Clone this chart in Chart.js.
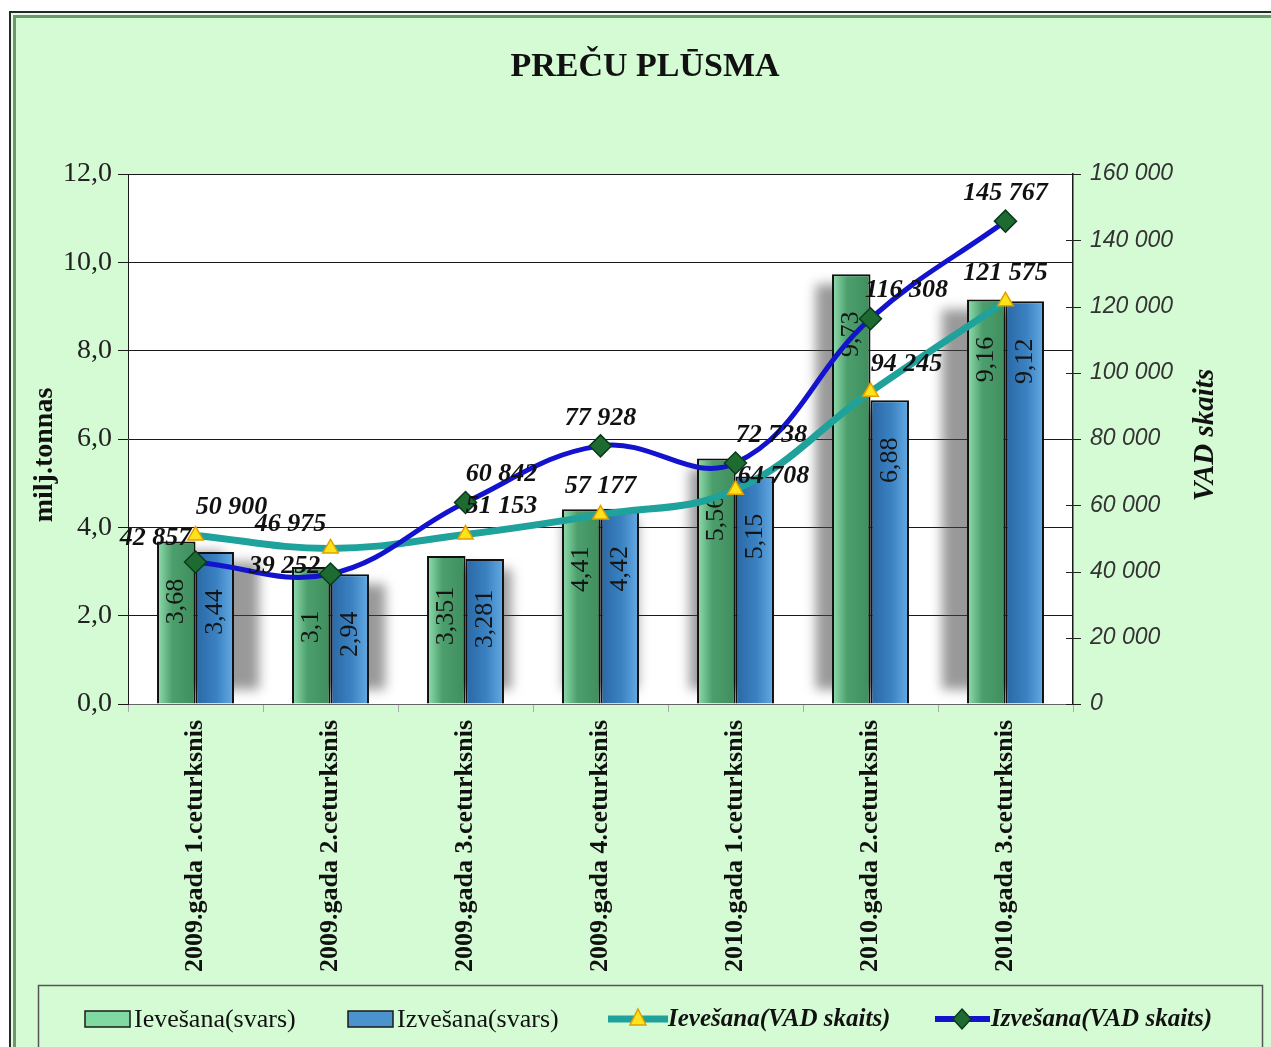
<!DOCTYPE html>
<html><head><meta charset="utf-8">
<script src="https://cdn.jsdelivr.net/npm/chart.js@4.4.1/dist/chart.umd.min.js"></script>
<style>html,body{margin:0;padding:0;background:#fff;}#wrap{width:1271px;height:1047px;position:relative;}</style>
</head><body><div id="wrap"><canvas id="c" width="1271" height="1047"></canvas></div>
<script>
// ---- data ----
const categories = ['2009.gada 1.ceturksnis','2009.gada 2.ceturksnis','2009.gada 3.ceturksnis','2009.gada 4.ceturksnis','2010.gada 1.ceturksnis','2010.gada 2.ceturksnis','2010.gada 3.ceturksnis'];
const importWeight = [3.68, 3.1, 3.351, 4.41, 5.56, 9.73, 9.16];
const exportWeight = [3.44, 2.94, 3.281, 4.42, 5.15, 6.88, 9.12];
const importCount = [50900, 46975, 51153, 57177, 64708, 94245, 121575];
const exportCount = [42857, 39252, 60842, 77928, 72738, 116308, 145767];
const seriesNames = ['Ievešana(svars)', 'Izvešana(svars)', 'Ievešana(VAD skaits)', 'Izvešana(VAD skaits)'];
const chartTitle = 'PREČU PLŪSMA';
const leftAxisTitle = 'milj.tonnas';
const rightAxisTitle = 'VAD skaits';

// ---- label placement (style) ----
const importLabelAlign = ['topright','topleft','topright','top','right','topright','top'];
const exportLabelAlign = ['topleft','left','topright','top','topright','topright','top'];

const SERIF = '"Liberation Serif","Times New Roman",serif';
const fmtWeight = v => String(v).replace('.', ',');
const fmtCount = v => String(v).replace(/\B(?=(\d{3})+(?!\d))/g, ' ');
const TEAL = '#1fa29b', BLUE = '#1212cf';

function barGradient(ctx, x, w, ds) {
  const g = ctx.createLinearGradient(x - w/2, 0, x + w/2, 0);
  if (ds === 0) {
    g.addColorStop(0, '#93dfb0'); g.addColorStop(0.4, '#4c9f6c'); g.addColorStop(1, '#3f8e5e');
  } else {
    g.addColorStop(0, '#2a67a4'); g.addColorStop(0.55, '#3b82c2'); g.addColorStop(1, '#65abe4');
  }
  return g;
}

const framePlugin = {
  id: 'frame',
  beforeDraw(chart) {
    const ctx = chart.ctx, W = chart.width, H = chart.height, a = chart.chartArea;
    ctx.save();
    ctx.fillStyle = '#fff'; ctx.fillRect(0, 0, W, H);
    ctx.fillStyle = '#1f2f1f'; ctx.fillRect(9, 11, W, H);
    ctx.fillStyle = '#eef8ee'; ctx.fillRect(11, 13, W, H);
    ctx.fillStyle = '#6a9a6a'; ctx.fillRect(13, 15, W, H);
    ctx.fillStyle = '#d5fbd5'; ctx.fillRect(16, 18, W, H);
    ctx.fillStyle = '#fff'; ctx.fillRect(a.left, a.top, a.right - a.left, a.bottom - a.top);
    ctx.fillStyle = '#111'; ctx.textAlign = 'center'; ctx.textBaseline = 'middle';
    ctx.font = 'bold 34px ' + SERIF;
    ctx.fillText(chartTitle, 645, 67);
    ctx.font = 'bold 28px ' + SERIF;
    ctx.translate(45, (a.top + a.bottom) / 2 + 16); ctx.rotate(-Math.PI / 2);
    ctx.fillText(leftAxisTitle, 0, 0);
    ctx.restore();
    ctx.save();
    ctx.fillStyle = '#111'; ctx.textAlign = 'center'; ctx.textBaseline = 'middle';
    ctx.font = 'bold italic 29px ' + SERIF;
    ctx.translate(1206, (a.top + a.bottom) / 2 - 4); ctx.rotate(-Math.PI / 2);
    ctx.fillText(rightAxisTitle, 0, 0);
    ctx.restore();
  },
  beforeDatasetsDraw(chart) {
    const ctx = chart.ctx, a = chart.chartArea, cx = (a.left + a.right) / 2;
    ctx.save();
    ctx.filter = 'blur(6px)';
    ctx.fillStyle = 'rgba(70,70,70,0.55)';
    [0, 1].forEach(d => {
      chart.getDatasetMeta(d).data.forEach(el => {
        const dx = -(el.x - cx) * 0.065;
        ctx.fillRect(el.x - el.width / 2 + dx, el.y + 10, el.width, el.base - el.y - 24);
      });
    });
    ctx.restore();
  },
  beforeDatasetDraw(chart, args) {
    const meta = args.meta;
    if (meta.type !== 'bar') return;
    meta.data.forEach(el => {
      el.options = Object.assign({}, el.options, { backgroundColor: barGradient(chart.ctx, el.x, el.width, args.index) });
    });
  },
  afterDatasetDraw(chart, args) {
    const meta = args.meta;
    if (meta.type !== 'bar') return;
    const ctx = chart.ctx;
    const vals = args.index === 0 ? importWeight : exportWeight;
    ctx.save();
    ctx.font = '26px ' + SERIF; ctx.fillStyle = '#151515';
    ctx.textAlign = 'center'; ctx.textBaseline = 'middle';
    meta.data.forEach((el, i) => {
      ctx.save(); ctx.translate(el.x, el.y + 60); ctx.rotate(-Math.PI / 2);
      ctx.fillText(fmtWeight(vals[i]), 0, 0); ctx.restore();
    });
    ctx.restore();
  },
  afterDatasetsDraw(chart) {
    const ctx = chart.ctx;
    const offs = { top: [0, -28], topright: [36, -28], topleft: [-40, -24], left: [-46, -8], right: [38, -13] };
    ctx.save();
    ctx.font = 'bold italic 26px ' + SERIF; ctx.fillStyle = '#111';
    ctx.textAlign = 'center'; ctx.textBaseline = 'middle';
    [[2, importCount, importLabelAlign], [3, exportCount, exportLabelAlign]].forEach(([d, vals, al]) => {
      chart.getDatasetMeta(d).data.forEach((el, i) => {
        const o = offs[al[i]];
        ctx.fillText(fmtCount(vals[i]), el.x + o[0], el.y + o[1]);
      });
    });
    const s = chart.scales.y2, a = chart.chartArea;
    ctx.strokeStyle = '#222'; ctx.lineWidth = 1;
    s.ticks.forEach(t => {
      const y = Math.round(s.getPixelForValue(t.value)) + 0.5;
      ctx.beginPath(); ctx.moveTo(a.right - 7, y); ctx.lineTo(a.right + 8, y); ctx.stroke();
    });
    ctx.restore();
  },
  afterDraw(chart) {
    const ctx = chart.ctx;
    ctx.save();
    ctx.strokeStyle = '#555'; ctx.lineWidth = 1.5;
    ctx.strokeRect(38.5, 985.5, 1224, 100);
    const ly = 1019;
    ctx.fillStyle = '#80d9a0'; ctx.fillRect(85, ly - 8, 45, 16);
    ctx.strokeStyle = '#1a1a1a'; ctx.lineWidth = 1.5; ctx.strokeRect(85, ly - 8, 45, 16);
    ctx.fillStyle = '#4b93cc'; ctx.fillRect(348, ly - 8, 45, 16);
    ctx.strokeRect(348, ly - 8, 45, 16);
    ctx.lineCap = 'butt';
    ctx.strokeStyle = TEAL; ctx.lineWidth = 7;
    ctx.beginPath(); ctx.moveTo(608, ly); ctx.lineTo(668, ly); ctx.stroke();
    ctx.fillStyle = '#ffe21a'; ctx.strokeStyle = '#e0a000'; ctx.lineWidth = 1.5;
    ctx.beginPath(); ctx.moveTo(638, ly - 10); ctx.lineTo(646, ly + 6); ctx.lineTo(630, ly + 6); ctx.closePath(); ctx.fill(); ctx.stroke();
    ctx.strokeStyle = BLUE; ctx.lineWidth = 6;
    ctx.beginPath(); ctx.moveTo(935, ly); ctx.lineTo(990, ly); ctx.stroke();
    ctx.fillStyle = '#1e6b32'; ctx.strokeStyle = '#0b3a1c'; ctx.lineWidth = 1.5;
    ctx.beginPath(); ctx.moveTo(962, ly - 10); ctx.lineTo(971, ly); ctx.lineTo(962, ly + 10); ctx.lineTo(953, ly); ctx.closePath(); ctx.fill(); ctx.stroke();
    ctx.fillStyle = '#111'; ctx.textAlign = 'left'; ctx.textBaseline = 'middle';
    ctx.font = '26px ' + SERIF;
    ctx.fillText(seriesNames[0], 134, ly + 1);
    ctx.fillText(seriesNames[1], 397, ly + 1);
    ctx.font = 'bold italic 25px ' + SERIF;
    ctx.fillText(seriesNames[2], 668, ly + 1);
    ctx.fillText(seriesNames[3], 991, ly + 1);
    ctx.restore();
  }
};

new Chart(document.getElementById('c'), {
  data: {
    labels: categories,
    datasets: [
      { type: 'bar', label: seriesNames[0], data: importWeight, yAxisID: 'y', order: 2,
        backgroundColor: '#4c9f6c', borderColor: '#111', borderWidth: 2,
        categoryPercentage: 0.57, barPercentage: 1.0 },
      { type: 'bar', label: seriesNames[1], data: exportWeight, yAxisID: 'y', order: 3,
        backgroundColor: '#3b82c2', borderColor: '#111', borderWidth: 2,
        categoryPercentage: 0.57, barPercentage: 1.0 },
      { type: 'line', label: seriesNames[2], data: importCount, yAxisID: 'y2', order: 1,
        borderColor: TEAL, borderWidth: 7, tension: 0.4, fill: false,
        pointStyle: 'triangle', pointRadius: 9, pointBackgroundColor: '#ffe21a',
        pointBorderColor: '#e0a000', pointBorderWidth: 1.5 },
      { type: 'line', label: seriesNames[3], data: exportCount, yAxisID: 'y2', order: 0,
        borderColor: BLUE, borderWidth: 5, tension: 0.4, fill: false,
        pointStyle: 'rectRot', pointRadius: 11, pointBackgroundColor: '#1e6b32',
        pointBorderColor: '#0b3a1c', pointBorderWidth: 1.5 }
    ]
  },
  options: {
    responsive: false, animation: false, devicePixelRatio: 1, events: [],
    layout: { padding: { left: 20, right: 0, top: 174, bottom: 0 } },
    plugins: { legend: { display: false }, tooltip: { enabled: false }, title: { display: false } },
    scales: {
      x: {
        position: 'bottom',
        afterFit: s => { s.height = 343; },
        grid: { drawOnChartArea: false, drawTicks: true, tickLength: 8, color: '#aaa', offset: true },
        border: { color: '#666', width: 1 },
        ticks: { minRotation: 90, maxRotation: 90, autoSkip: false, padding: 8, color: '#111',
                 font: { family: SERIF, size: 26, weight: 'bold' } }
      },
      y: {
        position: 'left', min: 0, max: 12,
        afterFit: s => { s.width = 108; },
        grid: { color: '#1a1a1a', lineWidth: 1, drawTicks: true, tickLength: 10 },
        border: { color: '#1a1a1a', width: 1 },
        ticks: { stepSize: 2, padding: 6, color: '#222', callback: v => v.toFixed(1).replace('.', ','),
                 font: { family: SERIF, size: 28 } }
      },
      y2: {
        position: 'right', min: 0, max: 160000,
        afterFit: s => { s.width = 198; },
        grid: { drawOnChartArea: false, drawTicks: false },
        border: { color: '#1a1a1a', width: 1.5 },
        ticks: { stepSize: 20000, padding: 17, color: '#333', callback: v => fmtCount(v),
                 font: { family: '"Liberation Sans", Arial, sans-serif', size: 23, style: 'italic' } }
      }
    }
  },
  plugins: [framePlugin]
});
</script>
</body></html>
